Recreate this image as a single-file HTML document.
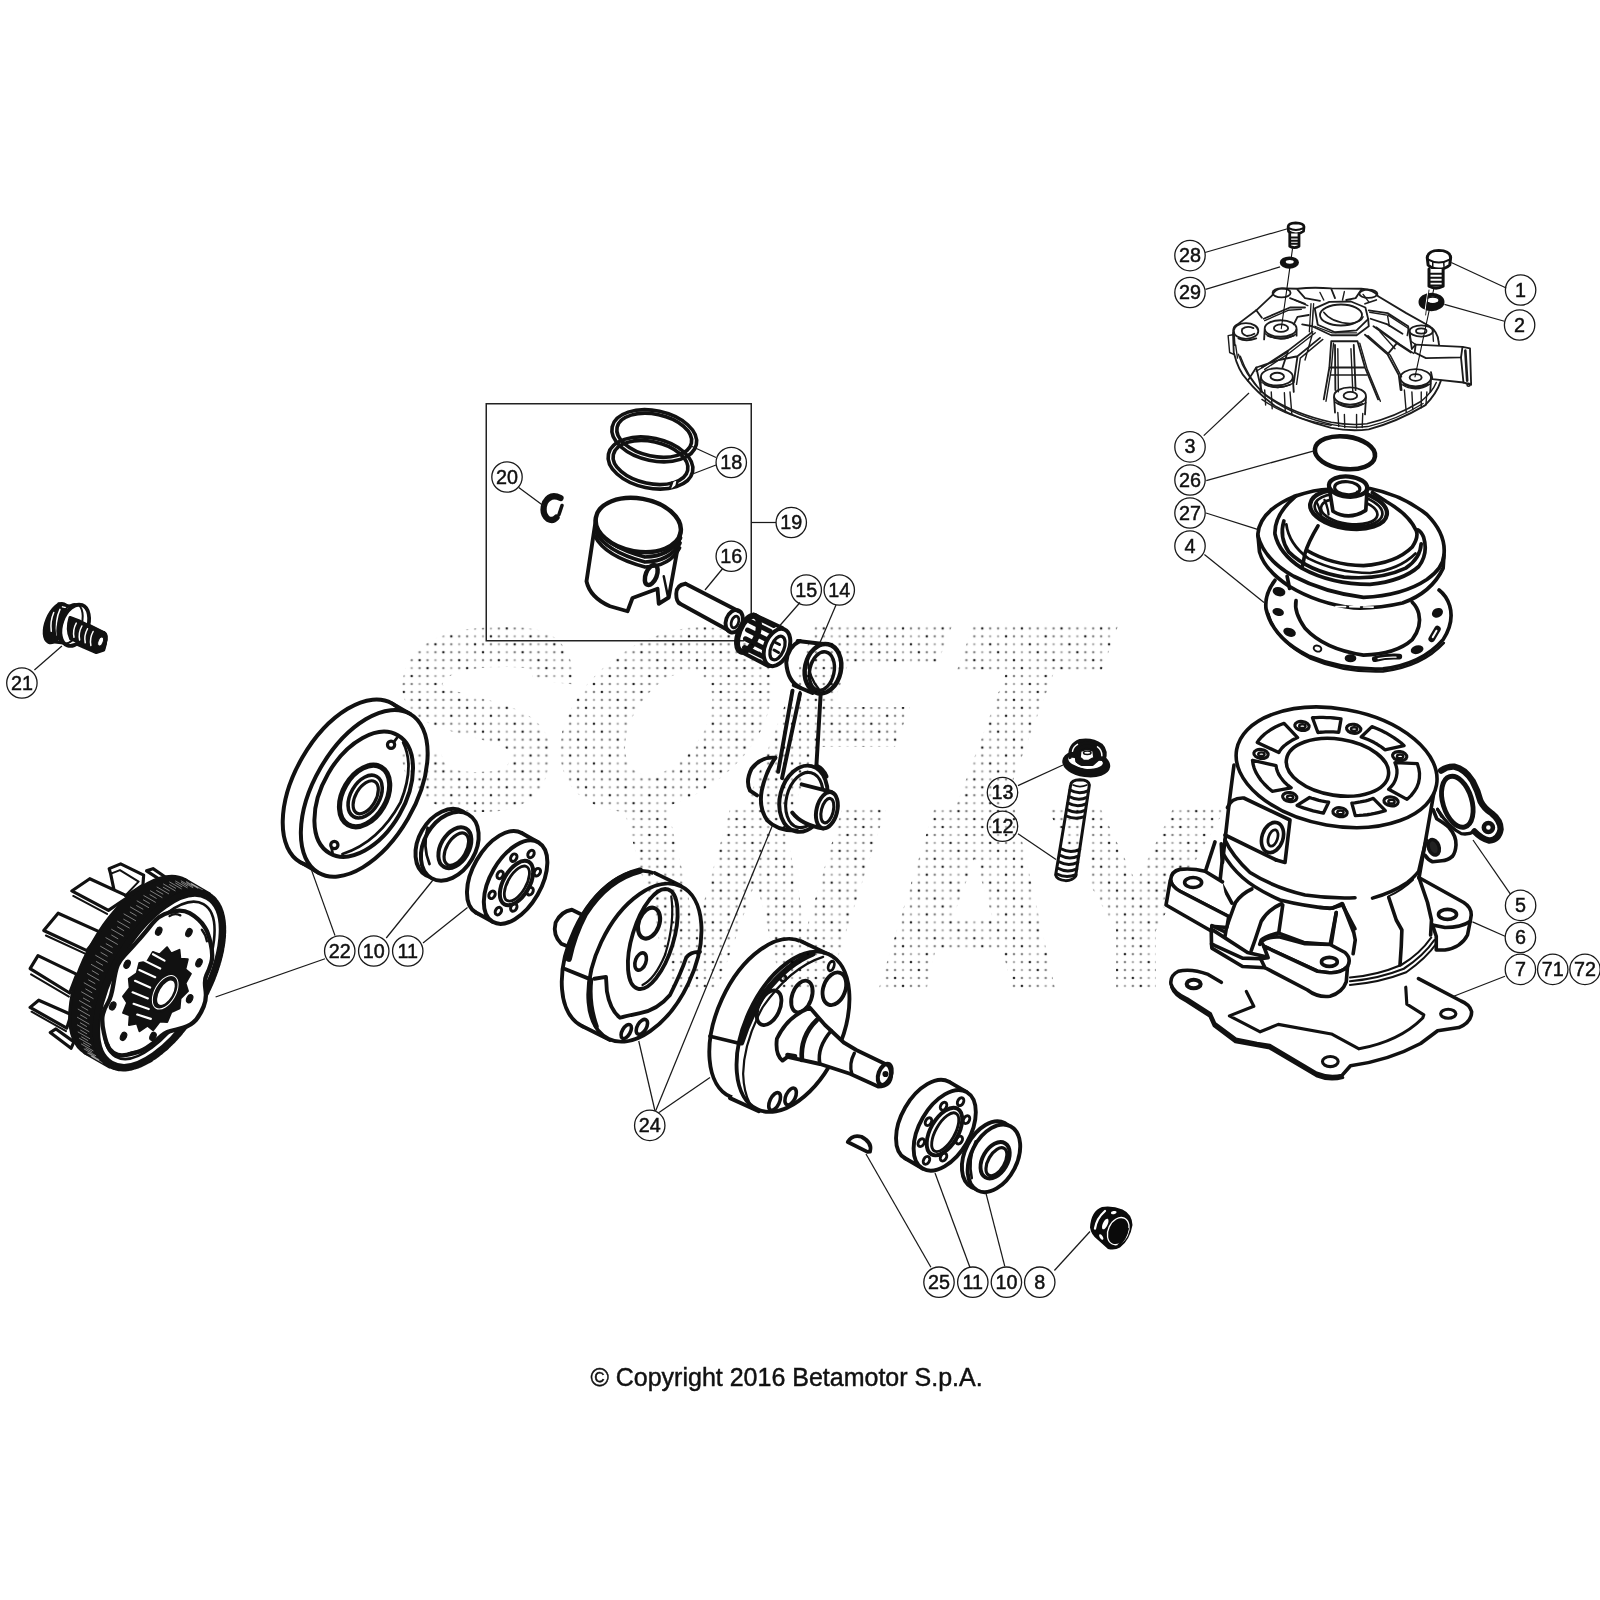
<!DOCTYPE html>
<html><head><meta charset="utf-8"><title>Parts diagram</title>
<style>
html,body{margin:0;padding:0;background:#fff;}
body{width:1600px;height:1600px;overflow:hidden;font-family:"Liberation Sans",sans-serif;}
svg{display:block;}
.p{fill:none;stroke:#111;stroke-linecap:round;stroke-linejoin:round;}
.w{fill:#fff;stroke:#111;stroke-linecap:round;stroke-linejoin:round;}
.k{fill:#111;stroke:#111;stroke-linejoin:round;}
.ld{stroke:#1a1a1a;stroke-width:1.25;fill:none;}
.cc{fill:none;stroke:#1a1a1a;stroke-width:1.3;}
.ct{font-family:"Liberation Sans",sans-serif;font-size:21px;fill:#111;stroke:#111;stroke-width:0.5;text-anchor:middle;}
</style></head><body>
<svg width="1600" height="1600" viewBox="0 0 1600 1600">
<rect width="1600" height="1600" fill="#fff"/>

<!-- cylinder -->
<g id="cylinder">
<!-- white silhouette to hide watermark -->
<path fill="#fff" style="stroke:none" d="M1234,760 Q1240,715 1325,706 Q1420,712 1436,775 L1428,872 L1420,878 L1465,903 Q1473,915 1470,935 Q1462,950 1437,951 L1400,972 L1350,982 L1348,990 Q1335,998 1318,994 L1265,968 L1212,946 L1212,932 L1165,906 L1170,880 Q1178,868 1192,869 L1205,871 L1215,843 L1226,843 Z"/>
<!-- top part, coords from 4x zoom @ (1150,690) -->
<g transform="translate(1150,690) scale(0.25)" class="p" stroke-width="14.5">
<!-- barrel sides -->
<path d="M336,300 L318,440 L290,690"/>
<path d="M1141,380 L1076,752"/>
<!-- boss -->
<path d="M310,470 Q325,430 375,432 L560,520 L540,690 L505,680"/>
<path d="M300,580 L505,680"/>
<ellipse cx="490" cy="590" rx="42" ry="62" transform="rotate(18 490 590)"/>
<ellipse cx="492" cy="592" rx="18" ry="34" transform="rotate(18 492 592)" stroke-width="11"/>
<!-- right boss -->
<path d="M1133,480 L1147,515 Q1180,535 1196,550 Q1226,585 1224,620 Q1222,650 1210,665 Q1190,682 1168,683 L1130,687 Q1112,680 1101,662"/>
<ellipse cx="1135" cy="629" rx="21" ry="32" transform="rotate(-20 1135 629)" fill="#222" stroke-width="14"/>
<path d="M1150,476 L1166,506" stroke-width="11"/>
</g>
<!-- top face -->
<g transform="translate(1220,695) scale(0.14375)" class="p" stroke-width="25">
<ellipse class="w" cx="811" cy="503" rx="706" ry="407" transform="rotate(10 811 503)"/>
<ellipse cx="817" cy="503" rx="359" ry="196" transform="rotate(8.8 817 503)"/>
<path d="M259,330 L273,310 L291,290 L311,271 L334,254 L358,238 L385,223 L415,209 L446,197 L540,296 L518,306 L498,317 L479,329 L461,342 L445,355 L431,369 L419,384 L409,400 Z" stroke-width="23"/>
<path d="M643,158 L667,157 L692,156 L717,156 L742,157 L767,158 L792,160 L817,162 L842,166 L826,259 L807,258 L789,257 L771,256 L753,256 L734,257 L717,258 L699,259 L681,261 Z" stroke-width="23"/>
<path d="M1057,220 L1090,233 L1122,247 L1152,262 L1181,279 L1209,296 L1234,314 L1259,332 L1281,352 L1147,381 L1131,368 L1113,355 L1094,343 L1073,331 L1052,320 L1029,310 L1006,301 L982,292 Z" stroke-width="23"/>
<path d="M1373,478 L1383,512 L1388,545 L1387,578 L1381,611 L1369,642 L1351,672 L1329,700 L1301,726 L1173,656 L1192,636 L1208,615 L1220,592 L1227,569 L1231,545 L1231,520 L1226,496 L1217,471 Z" stroke-width="23"/>
<path d="M1150,805 L1126,812 L1101,818 L1076,824 L1050,829 L1024,833 L996,836 L969,838 L941,839 L917,752 L937,750 L957,747 L976,744 L995,740 L1014,736 L1032,731 L1049,725 L1066,719 Z" stroke-width="23"/>
<path d="M719,822 L695,817 L672,811 L648,806 L625,799 L602,792 L580,785 L558,777 L536,768 L623,713 L638,718 L655,723 L671,728 L688,733 L705,737 L722,740 L739,743 L756,746 Z" stroke-width="23"/>
<path d="M363,670 L334,645 L308,619 L285,593 L266,565 L250,538 L238,510 L230,482 L226,454 L390,492 L393,512 L400,533 L409,553 L422,573 L436,592 L453,611 L473,629 L495,646 Z" stroke-width="23"/>
<ellipse cx="570" cy="215" rx="50" ry="31" transform="rotate(8 570 215)" stroke-width="22"/><ellipse cx="573" cy="217" rx="22" ry="13" stroke-width="17"/>
<ellipse cx="930" cy="235" rx="50" ry="31" transform="rotate(8 930 235)" stroke-width="22"/><ellipse cx="933" cy="237" rx="22" ry="13" stroke-width="17"/>
<ellipse cx="285" cy="410" rx="50" ry="31" transform="rotate(8 285 410)" stroke-width="22"/><ellipse cx="288" cy="412" rx="22" ry="13" stroke-width="17"/>
<ellipse cx="1250" cy="425" rx="50" ry="31" transform="rotate(8 1250 425)" stroke-width="22"/><ellipse cx="1253" cy="427" rx="22" ry="13" stroke-width="17"/>
<ellipse cx="485" cy="710" rx="50" ry="31" transform="rotate(8 485 710)" stroke-width="22"/><ellipse cx="488" cy="712" rx="22" ry="13" stroke-width="17"/>
<ellipse cx="835" cy="815" rx="50" ry="31" transform="rotate(8 835 815)" stroke-width="22"/><ellipse cx="838" cy="817" rx="22" ry="13" stroke-width="17"/>
<ellipse cx="1190" cy="740" rx="50" ry="31" transform="rotate(8 1190 740)" stroke-width="22"/><ellipse cx="1193" cy="742" rx="22" ry="13" stroke-width="17"/>
</g>
<!-- lower-left, coords from 8x zoom @ (1155,840) -->
<g transform="translate(1155,840) scale(0.125)" class="p" stroke-width="29">
<path d="M560,0 Q620,130 760,260 Q950,380 1200,440 Q1400,470 1600,462"/>
<path d="M540,100 Q600,210 700,300 Q800,390 1000,480 Q1200,530 1400,548 L1500,520"/>
<path d="M480,15 L405,245"/>
<path d="M530,30 L537,170 L520,330 L615,505"/>
<path d="M640,505 Q690,430 775,392"/>
<path d="M640,510 L600,620 L572,700 L560,770"/>
<path class="w" d="M540,335 L400,250 Q300,225 200,235 Q130,250 125,320 Q135,375 200,410 L590,612"/>
<path class="w" d="M122,325 L88,520 L450,728 L455,690 L575,700 L590,612 L200,410 Q135,375 125,320"/>
<ellipse cx="305" cy="340" rx="68" ry="40"/>
<path d="M455,685 L560,735"/>
<path d="M470,725 L740,900 L870,930 L905,942"/>
<path d="M450,730 L452,830 L480,845 L700,945 L845,950"/>
<path d="M452,830 L455,865 L700,1012 L880,1022"/>
<path d="M1012,510 Q900,560 850,650 L800,800 L770,885"/>
<path d="M1022,520 L990,742 Q880,770 850,800 L838,835"/>
<path d="M990,745 L1190,820 L1400,836"/>
<path d="M1450,580 L1402,832"/>
<path d="M1500,520 L1600,710"/>
<!-- front ear -->
<path class="w" d="M850,812 Q900,770 1000,776 L1200,830 L1400,836 L1520,900 Q1575,950 1540,1012 Q1480,1072 1380,1060 L1300,1050 L870,850 Z"/>
<path class="w" d="M1540,1015 L1530,1135 Q1500,1220 1400,1250 Q1300,1262 1220,1200 L880,1022 L845,950 L905,942 L870,850 L1300,1050 L1380,1060 Q1480,1072 1540,1012"/>
<ellipse cx="1395" cy="975" rx="63" ry="36"/>
</g>
<!-- lower-right, coords from 8x zoom @ (1320,840) -->
<g transform="translate(1320,840) scale(0.125)" class="p" stroke-width="29">
<path d="M420,465 Q580,420 700,340 Q760,290 790,250 L820,120 L850,0"/>
<path d="M545,452 Q660,400 745,318" stroke-width="15"/>
<path d="M790,300 L1150,500 Q1212,540 1210,600 L1200,660 L1180,760 Q1130,860 1000,880 L930,880 L930,770 L900,680"/>
<path d="M900,680 L1000,700 Q1130,700 1203,650"/>
<ellipse cx="1020" cy="595" rx="72" ry="40"/>
<path d="M795,310 L860,500 L892,640 L885,760"/>
<path d="M240,1100 Q450,1085 650,1000 Q800,910 890,780" stroke-width="17"/>
<path d="M240,1130 Q470,1110 670,1030 Q830,925 915,800" stroke-width="17"/>
<path d="M240,1160 Q480,1140 690,1058 Q850,945 930,830" stroke-width="17"/>
<path d="M550,460 L610,640 L655,720 L650,850 L640,1000"/>
<path d="M180,510 L270,740 L282,800 L265,910"/>
<path d="M130,580 L90,830"/>
<path d="M0,540 L100,546 L175,510"/>
</g>
</g>


<!-- gasket7 -->
<g id="gasket7" transform="translate(1155,950) scale(0.2125)" class="p" stroke-width="16.9">
<path d="M312,152 L250,115 Q170,85 110,100 Q70,120 75,160 Q85,200 150,230 L260,300 L280,345 L380,420 L480,440 L540,450 L760,580 Q820,605 880,590 L920,545 Q1100,520 1250,440 L1330,380 L1430,365 Q1490,340 1490,290 Q1480,255 1440,240 L1240,135"/>
<path d="M78,175 Q90,212 150,242 L258,312 L278,357 L378,432 L540,462 L760,592 Q820,617 884,600" stroke-width="13.6"/>
<path d="M430,195 L465,265 L350,310 L495,385 L580,350 L830,395 L960,465 Q1150,430 1260,320 L1265,305 L1185,255 L1180,175" stroke-width="14.7"/>
<ellipse cx="182" cy="160" rx="33" ry="20" stroke-width="19.2"/>
<ellipse cx="1380" cy="300" rx="36" ry="21" stroke-width="14.7"/>
<ellipse cx="825" cy="525" rx="37" ry="24" stroke-width="14.7"/>
</g>


<!-- gasket5 -->
<g id="gasket5" transform="translate(1400,740) scale(0.0875)" class="p" stroke-width="60">
<path d="M470,350 Q540,300 620,305 Q740,330 830,470 Q890,580 920,700 Q960,780 1050,840 Q1150,920 1150,1020 Q1130,1140 1020,1150 Q930,1130 850,1045" stroke-width="72"/>
<path d="M850,1045 Q780,1085 700,1070 Q560,1000 430,795" stroke-width="38"/>
<ellipse cx="655" cy="705" rx="165" ry="300" transform="rotate(-17 655 705)" stroke-width="56"/>
<circle cx="1010" cy="1000" r="52" stroke-width="52"/>
</g>


<!-- head3 -->
<g id="head3" transform="translate(1200,270) scale(0.1875)" fill="none" stroke="#1c1c1c" stroke-width="9.8" stroke-linecap="round" stroke-linejoin="round">
<!-- outer silhouette -->
<path d="M178,330 Q175,300 200,290 L300,215 L385,135 Q400,100 440,98 L520,100 Q600,90 700,98 L860,100 Q930,105 950,140 L1100,230 L1225,300 Q1268,330 1272,380 L1275,400"/>
<path d="M176,335 L180,440 Q205,540 250,585 Q310,660 400,725 Q520,795 700,842 Q800,862 900,850 Q1050,810 1200,722 Q1262,660 1285,590"/>
<path d="M205,450 Q240,560 330,650 Q470,760 700,812 Q800,830 890,820 Q1040,785 1180,700 Q1240,650 1260,600" stroke-width="8"/>
<path d="M330,690 Q470,790 700,828" stroke-width="6.9"/>
<!-- port box -->
<path d="M1150,398 L1400,410 L1440,418 L1446,612 L1405,600 L1240,582 L1232,545"/>
<path d="M1150,398 L1145,440 L1205,470 L1392,466 L1400,410"/>
<path d="M1392,466 L1405,600"/>
<path d="M1415,430 L1425,590" stroke-width="13.8"/>
<circle cx="1432" cy="612" r="8" stroke-width="8"/>
<!-- center hex boss -->
<path d="M612,205 L690,170 L805,168 L882,200 L897,262 L835,322 L720,332 L628,292 Z"/>
<ellipse cx="752" cy="240" rx="112" ry="56"/>
<path d="M660,225 Q700,280 800,285 Q860,280 870,250" stroke-width="8"/>
<path d="M600,215 L598,300 L700,348 L835,348 L900,300 L897,262"/>
<path d="M612,300 L705,335 L835,335" stroke-width="6.9"/>
<path d="M598,180 L588,330" stroke-width="11.5" stroke="#fff"/>
<path d="M592,180 L583,330 M606,180 L596,330" stroke-width="6.9"/>
<!-- bosses -->
<g>
<ellipse cx="410" cy="570" rx="85" ry="46"/><ellipse cx="412" cy="568" rx="36" ry="20"/>
<path d="M325,575 L322,650 M495,575 L500,650 M345,610 Q410,640 480,612"/>
<ellipse cx="800" cy="672" rx="85" ry="46"/><ellipse cx="802" cy="670" rx="36" ry="20"/>
<path d="M715,678 L720,760 M885,678 L880,770 M735,712 Q800,742 868,714"/>
<ellipse cx="1150" cy="575" rx="82" ry="46"/><ellipse cx="1150" cy="573" rx="32" ry="18"/>
<path d="M1068,580 L1075,640 M1232,580 L1228,650 M1088,612 Q1150,642 1215,612"/>
<ellipse cx="430" cy="312" rx="85" ry="44"/><ellipse cx="432" cy="310" rx="38" ry="20"/>
<path d="M345,318 L342,370 M515,318 L515,350 M360,350 Q430,380 500,350"/>
<ellipse cx="245" cy="325" rx="66" ry="42"/><path d="M285,310 Q250,295 225,315 Q215,340 250,352 Q275,350 290,340"/>
<path d="M180,330 L185,400 M205,365 Q245,385 300,365"/>
<ellipse cx="1180" cy="325" rx="62" ry="30"/><ellipse cx="1180" cy="325" rx="28" ry="14"/>
<ellipse cx="435" cy="122" rx="48" ry="24"/>
<ellipse cx="898" cy="127" rx="48" ry="22"/>
</g>
<!-- ribs -->
<path d="M600,330 L470,430 L330,520 M640,362 L520,460 L500,600 M470,430 L440,520 M520,460 L420,480 L300,520 L330,650"/>
<path d="M700,380 L690,520 L660,690 M840,380 L880,520 L950,690 M700,380 L840,380 M690,520 L880,520 M720,400 L722,640 M820,400 L830,640"/>
<path d="M880,345 L1000,450 L1060,560 M925,300 L1050,390 L1125,440 M1000,450 L1050,390 M1060,560 L1070,640"/>
<path d="M560,200 L480,200 L340,260 M580,240 L520,250 L500,290 M545,290 L600,300"/>
<path d="M900,215 L1000,230 L1110,300 M910,260 L1000,290 L1080,340 M1110,300 L1130,420"/>
<path d="M520,105 L560,150 L640,165 M700,100 L720,150 M860,105 L830,150 L780,160 M480,150 L560,180 M940,160 L880,180"/>
<path d="M300,215 L330,255 M255,590 L300,520 M1130,420 L1150,398"/>
<!-- extra density -->
<g stroke-width="7.5">
<path d="M330,600 Q410,650 495,605 M720,705 Q800,760 885,708 M1072,608 Q1150,660 1230,606 M348,340 Q430,395 512,342"/>
<path d="M345,640 L350,720 M480,650 L490,770 M735,760 L740,835 M868,765 L865,840 M1090,640 L1100,760 M1210,650 L1205,720"/>
<path d="M380,650 L385,740 M450,655 L455,760 M770,770 L772,840 M835,770 L835,842 M1130,650 L1135,745 M1180,650 L1180,735"/>
<path d="M615,335 L480,440 L345,530 M655,370 L535,470 L515,610 M455,445 L300,540 M560,480 L600,340"/>
<path d="M712,390 L700,530 L672,700 M852,390 L892,530 L962,700 M735,420 L738,650 M805,420 L815,650 M700,560 L890,560"/>
<path d="M895,350 L1015,455 L1075,570 M940,305 L1065,395 L1140,445 M960,330 L1040,420"/>
<path d="M215,460 Q255,575 345,665 Q485,775 712,826 Q805,845 895,835 Q1048,800 1190,712"/>
<path d="M190,400 L200,470 M175,345 L150,350 L158,440 L180,450"/>
<path d="M540,210 L470,215 L345,270 M505,160 L575,190 M640,120 L660,160 M770,115 L760,160 M870,130 L900,170"/>
<path d="M905,225 L1005,242 L1112,312 M1000,242 L1010,300 M1112,312 L1105,350"/>
<path d="M1240,310 L1245,380 M1120,335 L1125,380 L1150,398"/>
</g>
</g>


<!-- oring26 -->
<g id="oring26" transform="translate(1240,430) scale(0.1625)" class="p" stroke-width="28">
<ellipse cx="646" cy="140" rx="186" ry="100" transform="rotate(7 646 140)"/>
</g>


<!-- dome27 -->
<g id="dome27" transform="translate(1240,430) scale(0.1625)" class="p" stroke-width="22.8">
<!-- flange -->
<path class="w" d="M110,640 Q120,500 330,410 Q480,360 560,365 L800,360 Q1000,400 1150,520 Q1270,640 1255,770 L1250,850 Q1180,1000 1000,1065 Q850,1100 700,1095 Q480,1070 300,960 Q150,860 120,750 Z"/>
<path d="M110,650 Q150,800 330,900 Q520,1000 760,1030 Q1000,1020 1150,920 Q1250,850 1255,770"/>
<path d="M290,900 L305,975" />
<path d="M590,1086 L830,1090" stroke="#fff" stroke-width="9.6" stroke-dasharray="60 25"/>
<!-- ridges -->
<path d="M345,405 Q210,520 215,640 Q240,760 380,850 Q560,950 800,950 Q1000,930 1100,840 Q1160,760 1130,660 Q1115,625 1095,615"/>
<path d="M270,560 Q240,660 300,750 Q420,870 640,905 Q860,925 1020,850 Q1110,790 1115,700"/>
<path d="M410,740 Q560,830 760,835 Q960,820 1060,720 Q1100,660 1085,620 Q1040,520 900,440 L815,385"/>
<path d="M285,580 Q300,700 420,790 Q600,880 800,880 Q980,860 1080,760" stroke-width="16.8"/>
<!-- seam -->
<path d="M480,590 Q420,690 400,760 L385,835"/>
<!-- neck ring -->
<ellipse cx="668" cy="488" rx="238" ry="118" transform="rotate(8 668 488)" stroke-width="26.4"/>
<ellipse cx="668" cy="492" rx="210" ry="98" transform="rotate(8 668 492)" stroke-width="16.8"/>
<ellipse cx="672" cy="500" rx="175" ry="78" transform="rotate(8 672 500)" stroke-width="16.8"/>
<path d="M470,440 Q490,480 500,530 M520,430 Q540,470 545,520" stroke-width="14.4"/>
<!-- spigot -->
<path class="w" d="M548,350 L572,500 Q670,560 774,495 L783,350 Z"/>
<ellipse class="w" cx="665" cy="348" rx="118" ry="62" transform="rotate(5 665 348)" stroke-width="26.4"/>
<ellipse cx="660" cy="358" rx="78" ry="40" transform="rotate(5 660 358)" stroke-width="19.2"/>
<path d="M590,375 L600,400 M720,380 L722,400" stroke-width="14.4"/>
</g>


<!-- gasket4 -->
<g id="gasket4" transform="translate(1240,430) scale(0.1625)" class="p" stroke-width="22.8">
<path d="M215,925 Q150,1010 160,1100 Q200,1280 420,1390 Q640,1480 880,1470 Q1120,1440 1250,1290 Q1320,1180 1290,1080 Q1270,1020 1225,985"/>
<path d="M175,1130 Q215,1295 430,1405 Q640,1495 880,1486 Q1120,1456 1255,1310" stroke-width="14.4"/>
<path d="M345,1050 Q330,1120 400,1220 Q520,1350 760,1385 Q960,1380 1060,1290 Q1120,1210 1100,1130 Q1090,1090 1060,1060"/>
<g fill="#111" stroke-width="12">
<ellipse cx="240" cy="995" rx="34" ry="22" transform="rotate(15 240 995)"/>
<ellipse cx="235" cy="1120" rx="30" ry="18" transform="rotate(15 235 1120)"/>
<ellipse cx="305" cy="1245" rx="34" ry="20" transform="rotate(20 305 1245)"/>
<ellipse cx="477" cy="1345" rx="24" ry="18" transform="rotate(20 477 1345)" fill="none"/>
<ellipse cx="680" cy="1405" rx="30" ry="19"/>
<ellipse cx="1090" cy="1352" rx="34" ry="20" transform="rotate(-15 1090 1352)"/>
<ellipse cx="1215" cy="1125" rx="30" ry="22" transform="rotate(-30 1215 1125)"/>
</g>
<path d="M830,1410 Q900,1390 980,1395" stroke-width="36"/>
<path d="M850,1407 Q900,1396 960,1398" stroke-width="8.4" stroke="#fff"/>
<path d="M1180,1285 L1215,1225" stroke-width="40.8"/>
<path d="M1186,1275 L1209,1235" stroke-width="12" stroke="#fff"/>
</g>


<!-- bolts -->
<g id="bolts">
<!-- bolt 28: 8x zoom @ (1150,200) -->
<g transform="translate(1150,200) scale(0.125)" class="p" stroke-width="22">
<path class="w" d="M1105,215 Q1105,185 1165,183 Q1230,185 1232,215 L1228,250 Q1200,272 1165,270 Q1125,270 1108,250 Z"/>
<path d="M1110,225 Q1165,255 1228,225" stroke-width="14"/>
<path d="M1118,268 L1118,370 Q1155,392 1192,370 L1192,268" fill="#fff"/>
<path d="M1120,300 L1190,300 M1120,325 L1190,325 M1120,350 L1190,350" stroke-width="16"/>
<path d="M1140,390 L1050,1030" stroke-width="9"/>
<!-- washer 29 -->
<ellipse cx="1115" cy="500" rx="66" ry="38" fill="#111"/>
<ellipse cx="1118" cy="494" rx="32" ry="15" fill="#fff" style="stroke:none"/>
</g>
<!-- bolt 1: 8x zoom @ (1400,220) -->
<g transform="translate(1400,220) scale(0.125)" class="p" stroke-width="24">
<path class="w" d="M218,300 Q225,245 310,243 Q400,245 405,300 L398,360 Q360,395 310,392 Q255,392 225,360 Z"/>
<path d="M222,315 Q310,365 402,315" stroke-width="16"/>
<path d="M262,340 L262,375 M350,340 L352,372" stroke-width="12"/>
<path d="M232,392 L232,530 Q288,560 345,530 L345,392" fill="#fff"/>
<path d="M235,430 L343,430 M235,462 L343,462 M235,494 L343,494 M240,524 L340,524" stroke-width="17"/>
<path d="M270,552 L120,1255" stroke-width="9"/>
<!-- washer 2 -->
<ellipse cx="252" cy="655" rx="92" ry="62" fill="#111"/>
<ellipse cx="262" cy="640" rx="50" ry="26" fill="#fff" style="stroke:none"/>
<ellipse cx="262" cy="642" rx="50" ry="26" fill="none" stroke-width="10"/>
<path d="M225,560 L195,760" stroke="#fff" stroke-width="8"/>
<path d="M232,560 L205,760" stroke-width="7"/>
</g>
</g>


<!-- stud -->
<g id="stud" transform="translate(960,720) scale(0.125)" class="p" stroke-width="26">
<!-- nut 13 -->
<ellipse cx="1010" cy="350" rx="180" ry="95" fill="#111" transform="rotate(8 1010 350)"/>
<ellipse cx="1005" cy="325" rx="140" ry="62" fill="#fff" style="stroke:none" transform="rotate(8 1005 325)"/>
<path d="M880,300 Q870,200 960,165 Q1060,150 1130,200 Q1180,250 1150,330" fill="#111"/>
<path d="M935,330 L925,250 L1000,205 L1090,225 L1120,300 L1060,355 L960,355 Z" fill="#111"/>
<path d="M960,300 L965,250 L1015,232 L1065,248 L1072,300 L1030,325 L985,322 Z" fill="#fff" stroke-width="14"/>
<ellipse cx="1018" cy="262" rx="30" ry="14" fill="#fff" stroke-width="12"/>
<path d="M905,330 Q950,380 1020,385 Q1090,380 1125,340" stroke="#fff" stroke-width="14"/>
<path d="M900,250 Q905,215 940,195 M1100,215 Q1135,240 1135,285" stroke="#fff" stroke-width="12"/>
<!-- stud 12 -->
<path d="M885,520 Q890,480 960,478 Q1030,480 1035,520 L925,1250 Q900,1285 845,1285 Q775,1280 765,1240 Z" stroke-width="24"/>
<g stroke-width="24">
<path d="M880,560 Q950,600 1028,565"/>
<path d="M872,612 Q945,652 1020,617"/>
<path d="M864,664 Q937,704 1012,669"/>
<path d="M856,716 Q929,756 1004,721"/>
<path d="M850,768 Q921,800 996,773"/>
<path d="M808,1030 Q880,1070 958,1035"/>
<path d="M800,1082 Q872,1122 950,1087"/>
<path d="M792,1134 Q864,1174 942,1139"/>
<path d="M784,1186 Q856,1226 934,1191"/>
<path d="M776,1232 Q848,1268 928,1238"/>
</g>
<path d="M905,520 Q960,545 1015,520" stroke-width="14"/>
</g>


<!-- pistonbox -->
<g id="pistonbox">
<rect x="486.25" y="403.75" width="265" height="237" fill="none" stroke="#222" stroke-width="1.5"/>
<g transform="translate(470,390) scale(0.25)" class="p" stroke-width="15.5">
<!-- rings 18 -->
<g stroke-width="14.5">
<ellipse cx="722" cy="292" rx="172" ry="100" transform="rotate(12 722 292)"/>
<ellipse cx="722" cy="290" rx="152" ry="84" transform="rotate(12 722 290)"/>
<ellipse cx="737" cy="183" rx="172" ry="100" transform="rotate(12 737 183)"/>
<ellipse cx="737" cy="181" rx="152" ry="84" transform="rotate(12 737 181)"/>
</g>
<path d="M805,385 L822,372" stroke="#fff" stroke-width="16"/>
<path d="M800,392 L808,370 M826,385 L830,366" stroke-width="10"/>
<!-- piston -->
<path d="M503,520 L466,765 Q480,830 560,865 L630,885 L650,832 L750,795 L755,855 L795,830 L842,570" />
<ellipse cx="673" cy="540" rx="172" ry="106" transform="rotate(10 673 540)" stroke-width="18"/>
<path d="M503,545 Q540,625 700,668 Q800,665 842,592" stroke-width="15"/>
<path d="M502,565 Q540,645 700,688 Q800,685 840,612" stroke-width="15"/>
<path d="M500,585 Q540,665 700,708 Q800,705 838,632" stroke-width="15"/>
<path d="M775,745 L792,828" stroke-width="10"/>
<ellipse cx="725" cy="740" rx="22" ry="42" transform="rotate(22 725 740)" stroke-width="18"/>
<!-- clip 20 -->
<path d="M362,432 Q322,412 300,450 Q284,492 312,516 Q332,526 346,510" stroke-width="25"/>
<path d="M368,462 L356,498" stroke-width="14"/>
<!-- pin 16 -->
<path d="M862,775 L1075,885 M835,852 L1035,962"/>
<path d="M862,775 Q825,780 825,815 Q825,845 838,853"/>
<ellipse cx="1057" cy="925" rx="33" ry="46" transform="rotate(20 1057 925)"/>
<ellipse cx="1060" cy="928" rx="14" ry="24" transform="rotate(20 1060 928)" stroke-width="11"/>
<!-- bearing 15 -->
<path class="w" d="M1130,900 L1245,950 L1200,1105 L1085,1045 Z" style="stroke:none"/>
<path d="M1135,898 L1250,952 M1090,1050 L1195,1105"/>
<ellipse cx="1112" cy="975" rx="36" ry="76" transform="rotate(22 1112 975)" stroke-width="24"/>
<g stroke-width="20">
<path d="M1120,925 L1200,965 M1110,960 L1190,1000 M1102,995 L1180,1035 M1098,1030 L1175,1068 M1140,905 L1215,942"/>
</g>
<ellipse class="w" cx="1228" cy="1030" rx="48" ry="78" transform="rotate(22 1228 1030)" stroke-width="16"/>
<ellipse cx="1230" cy="1032" rx="26" ry="50" transform="rotate(22 1230 1032)" stroke-width="13"/>
<path d="M1222,1010 L1238,1018 M1216,1040 L1234,1050" stroke-width="12"/>
</g>
</g>


<!-- conrod -->
<g id="conrod" transform="translate(700,600) scale(0.15625)" class="p" stroke-width="25.3">
<!-- small end -->
<path d="M640,262 Q560,300 552,400 Q560,520 640,560"/>
<path d="M625,262 L790,282 M600,545 L720,595"/>
<ellipse cx="787" cy="440" rx="115" ry="160" transform="rotate(12 787 440)" stroke-width="28.6"/>
<ellipse cx="780" cy="455" rx="78" ry="125" transform="rotate(12 780 455)" stroke-width="22"/>
<path d="M690,395 Q700,500 760,570" stroke-width="15.4"/>
<!-- shaft -->
<path d="M592,580 L500,1100 M640,600 L525,1140 M772,605 L745,1060"/>
<!-- big end back boss -->
<path d="M482,1010 Q390,1000 330,1080 Q290,1160 320,1220 L365,1250"/>
<!-- big end body -->
<path d="M482,1010 Q420,1100 395,1220 Q375,1330 430,1410 Q500,1480 620,1475"/>
<ellipse cx="662" cy="1272" rx="150" ry="215" transform="rotate(14 662 1272)"/>
<ellipse cx="668" cy="1280" rx="115" ry="180" transform="rotate(14 668 1280)" stroke-width="19.8"/>
<path d="M745,1060 Q790,1080 810,1130"/>
<!-- crank pin stub -->
<path class="w" d="M640,1190 L760,1215 L850,1235 L800,1460 L720,1440 L600,1380 Z" style="stroke:none"/>
<path d="M650,1180 L840,1228 M590,1360 Q650,1440 790,1462"/>
<ellipse class="w" cx="812" cy="1345" rx="66" ry="118" transform="rotate(14 812 1345)"/>
<ellipse cx="815" cy="1348" rx="38" ry="80" transform="rotate(14 815 1348)" stroke-width="19.8"/>
</g>


<!-- bolt21 -->
<g id="bolt21" transform="translate(0,580) scale(0.125)" class="p" stroke-width="24">
<!-- thread -->
<path d="M590,300 L830,420 Q860,480 830,560 L770,580 L540,480 Z" fill="#111"/>
<g stroke="#fff" stroke-width="13">
<path d="M600,345 Q570,400 580,455"/><path d="M645,368 Q615,423 625,478"/><path d="M690,390 Q660,445 670,500"/><path d="M735,412 Q705,467 715,522"/>
</g>
<ellipse cx="800" cy="492" rx="42" ry="78" transform="rotate(20 800 492)" fill="#111"/>
<ellipse cx="800" cy="492" rx="22" ry="40" transform="rotate(20 800 492)" fill="#fff" stroke-width="8"/>
<!-- head -->
<ellipse cx="450" cy="345" rx="80" ry="165" transform="rotate(22 450 345)" fill="#111"/>
<path d="M470,190 L590,215 L560,510 L420,495 Z" fill="#111"/>
<path d="M430,260 Q400,330 410,410 M480,235 Q440,320 455,440" stroke="#fff" stroke-width="12"/>
<path d="M500,215 L545,225 M470,480 L520,490" stroke="#fff" stroke-width="12"/>
<!-- flange -->
<ellipse cx="598" cy="362" rx="105" ry="172" transform="rotate(20 598 362)" fill="#fff" stroke-width="30"/>
<ellipse cx="560" cy="350" rx="90" ry="165" transform="rotate(20 560 350)" fill="none" stroke-width="16"/>
<path d="M560,300 Q530,400 565,470 L640,500 L780,565 L830,545 Q855,480 830,425 L640,330 Z" fill="#111"/>
<g stroke="#fff" stroke-width="12">
<path d="M610,345 Q580,400 592,458"/><path d="M655,368 Q625,423 637,480"/><path d="M700,390 Q670,445 682,502"/><path d="M745,412 Q715,467 727,524"/>
</g>
<ellipse cx="805" cy="492" rx="40" ry="76" transform="rotate(20 805 492)" fill="#111"/>
<ellipse cx="805" cy="492" rx="20" ry="38" transform="rotate(20 805 492)" fill="#fff" stroke-width="8"/>
</g>


<!-- disk22 -->
<g id="disk22" transform="translate(270,690) scale(0.18125)" class="p" stroke-width="22">
<ellipse cx="420" cy="512" rx="506" ry="279" transform="rotate(-60 420 512)"/>
<ellipse class="w" cx="520" cy="570" rx="506" ry="279" transform="rotate(-60 520 570)"/>
<path d="M673,74 L773,132 M167,950 L267,1008" stroke-width="19.8"/>
<ellipse cx="517" cy="575" rx="376" ry="227" transform="rotate(-60 517 575)"/>
<path d="M735,290 Q800,420 720,620 Q600,840 400,905" stroke-width="15.4"/>
<ellipse cx="522" cy="585" rx="183" ry="120" transform="rotate(-60 522 585)" stroke-width="28.6"/>
<ellipse cx="525" cy="588" rx="128" ry="80" transform="rotate(-60 525 588)" stroke-width="19.8"/>
<ellipse cx="528" cy="592" rx="100" ry="56" transform="rotate(-60 528 592)" stroke-width="17.6"/>
<circle cx="668" cy="302" r="20" stroke-width="17.6"/><path d="M685,285 L700,265" stroke-width="15.4"/>
<circle cx="355" cy="855" r="20" stroke-width="17.6"/><path d="M340,872 L345,900" stroke-width="15.4"/>
</g>


<!-- seal_bearing_l -->
<g id="seal_bearing_l" transform="translate(270,690) scale(0.18125)" class="p" stroke-width="22">
<!-- seal 10 -->
<ellipse cx="962" cy="846" rx="203" ry="142" transform="rotate(-60 962 846)"/>
<ellipse class="w" cx="992" cy="862" rx="203" ry="142" transform="rotate(-60 992 862)"/>
<path d="M870,760 Q840,860 880,960" stroke-width="15.4"/>
<ellipse cx="1020" cy="870" rx="122" ry="78" transform="rotate(-60 1020 870)"/>
<ellipse cx="1028" cy="878" rx="98" ry="54" transform="rotate(-60 1028 878)" stroke-width="17.6"/>
<!-- bearing 11 -->
<ellipse cx="1262" cy="1008" rx="253" ry="140" transform="rotate(-60 1262 1008)"/>
<path class="w" style="stroke:none" d="M1388,789 L1481,841 L1229,1279 L1136,1227 Z"/>
<path d="M1388,789 L1481,841 M1136,1227 L1229,1279"/>
<ellipse class="w" cx="1355" cy="1060" rx="253" ry="140" transform="rotate(-60 1355 1060)"/>
<ellipse cx="1360" cy="1065" rx="135" ry="72" transform="rotate(-60 1360 1065)"/>
<ellipse cx="1362" cy="1068" rx="108" ry="50" transform="rotate(-60 1362 1068)" stroke-width="15.4"/>
<g stroke-width="16.5">
<ellipse cx="1345" cy="925" rx="22" ry="16" transform="rotate(-60 1345 925)"/>
<ellipse cx="1440" cy="905" rx="22" ry="16" transform="rotate(-60 1440 905)"/>
<ellipse cx="1475" cy="1005" rx="22" ry="16" transform="rotate(-60 1475 1005)"/>
<ellipse cx="1435" cy="1110" rx="22" ry="16" transform="rotate(-60 1435 1110)"/>
<ellipse cx="1345" cy="1200" rx="22" ry="16" transform="rotate(-60 1345 1200)"/>
<ellipse cx="1260" cy="1220" rx="22" ry="16" transform="rotate(-60 1260 1220)"/>
<ellipse cx="1225" cy="1130" rx="22" ry="16" transform="rotate(-60 1225 1130)"/>
<ellipse cx="1270" cy="1020" rx="22" ry="16" transform="rotate(-60 1270 1020)"/>
</g>
</g>


<!-- clutch -->
<g id="clutch" transform="translate(15,855) scale(0.14375)" class="p" stroke-width="22">
<path class="w" d="M655,95 L735,62 L895,140 L890,210 L770,290 L690,250 L665,130 Z"/>
<path class="w" d="M915,110 L960,95 L1040,150 L1030,185 Z"/>
<path class="w" d="M395,250 L520,165 L790,290 L650,385 Z"/>
<path class="w" d="M200,525 L300,405 L600,540 L500,665 Z"/>
<path class="w" d="M105,790 L160,700 L430,830 L380,960 Z"/>
<path class="w" d="M105,1060 L165,1010 L390,1110 L360,1205 Z"/>
<path class="w" d="M245,1235 L285,1210 L410,1300 L390,1345 Z"/>
<path d="M405,285 L640,410 M215,560 L495,690 M112,830 L375,985 M115,1090 L355,1225 M668,130 L730,105 L860,185 L765,285" stroke-width="14"/>
<ellipse cx="835" cy="774" rx="695" ry="338" transform="rotate(-60 835 774)" fill="#111"/>
<path d="M1182,172 L1352,270 L657,1474 L487,1376 Z" fill="#111"/>
<path d="M528,1399 L613,1448 M535,1400 L583,1428 M502,1376 L587,1425 M510,1375 L558,1402 M479,1348 L564,1397 M490,1343 L537,1371 M460,1314 L545,1363 M473,1306 L521,1334 M446,1274 L531,1323 M461,1264 L509,1292 M437,1230 L522,1279 M454,1217 L502,1245 M432,1181 L517,1230 M452,1166 L500,1194 M432,1128 L517,1177 M454,1112 L502,1139 M437,1071 L522,1120 M462,1054 L509,1081 M446,1012 L531,1061 M473,994 L521,1021 M461,951 L546,1000 M490,931 L537,959 M479,888 L564,937 M510,868 L558,895 M502,824 L587,873 M535,804 L583,832 M529,760 L614,809 M564,740 L612,768 M559,697 L644,746 M596,677 L644,705 M593,634 L678,683 M632,616 L679,643 M630,574 L715,623 M670,556 L718,584 M670,516 L755,565 M711,499 L759,527 M712,460 L797,509 M754,446 L802,473 M756,409 L841,458 M799,396 L846,424 M801,361 L886,410 M844,351 L892,378 M847,318 L932,367 M891,311 L938,338 M894,281 L979,330 M937,275 L985,303 M940,248 L1025,297 M983,246 L1031,273 M986,222 L1071,271 M1029,223 L1076,250 M1031,201 L1116,250 M1073,205 L1120,233 M1074,187 L1159,236 M1115,194 L1163,222 M1115,180 L1200,229 M1155,190 L1203,218 M1154,179 L1239,228 M1193,192 L1240,220 M1190,184 L1275,233 M1227,201 L1275,228 M1223,196 L1308,245" stroke="#fff" stroke-width="3.2" stroke-linecap="butt"/>
<ellipse cx="1005" cy="872" rx="680" ry="325" transform="rotate(-60 1005 872)" fill="#fff" stroke-width="46" stroke-dasharray="22 12"/>
<ellipse cx="1005" cy="872" rx="655" ry="302" transform="rotate(-60 1005 872)" stroke-width="14"/>
<ellipse cx="1005" cy="872" rx="612" ry="266" transform="rotate(-60 1005 872)" stroke-width="18"/>
<path d="M1040,411 Q1080,392 1130,388 Q1180,385 1215,405 Q1250,425 1275,448 Q1300,470 1322,505 Q1345,540 1362,620 Q1380,700 1365,750 Q1350,800 1332,835 Q1315,870 1325,935 Q1335,1000 1312,1055 Q1290,1110 1258,1148 Q1225,1185 1172,1200 Q1120,1215 1080,1225 Q1040,1235 995,1278 Q950,1320 915,1342 Q880,1365 815,1382 Q750,1400 715,1390 Q680,1380 658,1350 Q635,1320 618,1235 Q600,1150 612,1105 Q625,1060 648,1025 Q670,990 685,895 Q700,800 715,765 Q730,730 760,700 Q790,670 845,608 Q900,545 930,508 Q960,470 980,450 Q1000,430 1040,411 Z" stroke-width="30" fill="#fff"/>
<ellipse cx="1000" cy="530" rx="20" ry="30" transform="rotate(25 1000 530)" fill="#111" stroke-width="8"/>
<ellipse cx="1210" cy="540" rx="20" ry="30" transform="rotate(25 1210 540)" fill="#111" stroke-width="8"/>
<ellipse cx="1280" cy="750" rx="20" ry="30" transform="rotate(25 1280 750)" fill="#111" stroke-width="8"/>
<ellipse cx="780" cy="760" rx="20" ry="30" transform="rotate(25 780 760)" fill="#111" stroke-width="8"/>
<ellipse cx="680" cy="1050" rx="20" ry="30" transform="rotate(25 680 1050)" fill="#111" stroke-width="8"/>
<ellipse cx="755" cy="1262" rx="20" ry="30" transform="rotate(25 755 1262)" fill="#111" stroke-width="8"/>
<ellipse cx="960" cy="1262" rx="20" ry="30" transform="rotate(25 960 1262)" fill="#111" stroke-width="8"/>
<ellipse cx="1215" cy="1000" rx="20" ry="30" transform="rotate(25 1215 1000)" fill="#111" stroke-width="8"/>
<path d="M1075,425 Q1110,400 1150,420 M1300,520 Q1330,560 1335,600 M615,1230 Q625,1290 650,1320 M790,1380 Q840,1360 880,1375" stroke-width="16"/>
<path d="M1144,660 L1150,722 L1202,725 L1185,795 L1223,827 L1186,893 L1203,947 L1151,998 L1145,1066 L1088,1092 L1059,1161 L1007,1159 L961,1218 L922,1187 L866,1226 L848,1172 L793,1183 L798,1116 L752,1098 L780,1028 L752,984 L798,924 L792,862 L847,823 L865,752 L921,740 L959,675 L1006,692 L1058,642 L1087,685 Z" fill="#111" stroke-width="14"/>
<path d="M900,735 L1010,790 M865,800 L975,850 M835,875 L940,922 M818,955 L925,998 M825,1035 L930,1072 M850,1110 L945,1140 M960,690 L1040,735" stroke="#fff" stroke-width="15"/>
<ellipse cx="1045" cy="955" rx="150" ry="92" transform="rotate(-60 1045 955)" fill="#111" stroke-width="10"/>
<ellipse cx="1045" cy="955" rx="128" ry="72" transform="rotate(-60 1045 955)" fill="none" stroke="#fff" stroke-width="7"/>
<ellipse cx="1050" cy="958" rx="100" ry="52" transform="rotate(-60 1050 958)" fill="#fff" stroke-width="12"/>
</g>

<!-- crank_l -->
<g id="crank_l" transform="translate(545,860) scale(0.125)" class="p" stroke-width="30.8">
<!-- stub -->
<path class="w" d="M215,398 Q130,410 85,500 Q60,600 130,670 L185,692 L300,440 Z"/>
<!-- back rim -->
<ellipse class="w" cx="587" cy="719" rx="675" ry="386" transform="rotate(-64.7 587 719)"/>
<path d="M760,85 Q500,150 320,430 Q230,600 190,790" stroke-width="50.6"/>
<path class="w" style="stroke:none" d="M870,100 L1090,210 L520,1440 L300,1330 Z"/>
<path d="M880,105 L1085,205 M300,1330 L520,1440"/>
<!-- front ellipse -->
<ellipse class="w" cx="799" cy="821" rx="675" ry="386" transform="rotate(-64.7 799 821)"/>
<path d="M1240,735 Q1170,730 1130,780 Q1090,900 1000,1080 Q900,1200 760,1225 Q640,1250 600,1262 Q520,1200 495,1050 L488,935 L395,950" />
<path d="M160,872 L365,955"/>
<path d="M366,960 Q345,1150 410,1330" stroke-width="39.6"/>
<!-- oval web -->
<ellipse cx="862" cy="632" rx="165" ry="415" transform="rotate(17 862 632)"/>
<path d="M1010,290 Q1040,500 960,760 Q880,950 780,1000" stroke-width="17.6"/>
<ellipse cx="832" cy="505" rx="82" ry="128" transform="rotate(20 832 505)" stroke-width="33"/>
<ellipse cx="765" cy="812" rx="42" ry="72" transform="rotate(20 765 812)" stroke-width="28.6"/>
<!-- small holes -->
<ellipse cx="650" cy="1372" rx="32" ry="62" transform="rotate(30 650 1372)" stroke-width="28.6"/>
<ellipse cx="775" cy="1335" rx="36" ry="66" transform="rotate(30 775 1335)" stroke-width="28.6"/>
</g>


<!-- crank_r -->
<g id="crank_r" transform="translate(700,930) scale(0.125)" class="p" stroke-width="30.8">
<ellipse class="w" cx="526" cy="712" rx="683" ry="385" transform="rotate(-65.3 526 712)"/>
<path class="w" style="stroke:none" d="M800,90 L1030,200 L480,1450 L250,1350 Z"/>
<path d="M812,92 L1030,195 M240,1345 L470,1450"/>
<ellipse class="w" cx="744" cy="814" rx="683" ry="385" transform="rotate(-65.3 744 814)"/>
<path d="M985,215 Q720,300 500,620 Q350,900 345,1150 Q350,1300 400,1390" stroke-width="17.6"/>
<path d="M900,190 Q700,270 520,500 Q400,680 330,900" stroke-width="48.4"/>
<path d="M80,850 L295,902"/>
<!-- big holes -->
<ellipse cx="552" cy="622" rx="85" ry="148" transform="rotate(25 552 622)"/>
<ellipse cx="815" cy="532" rx="78" ry="132" transform="rotate(20 815 532)"/>
<ellipse cx="1075" cy="470" rx="88" ry="135" transform="rotate(20 1075 470)"/>
<circle cx="665" cy="385" r="24" stroke-width="22"/>
<ellipse cx="1050" cy="288" rx="22" ry="40" transform="rotate(20 1050 288)" stroke-width="22"/>
<ellipse cx="597" cy="1372" rx="38" ry="76" transform="rotate(25 597 1372)" stroke-width="28.6"/>
<ellipse cx="725" cy="1332" rx="38" ry="72" transform="rotate(25 725 1332)" stroke-width="28.6"/>
<!-- shaft -->
<path class="w" d="M880,622 Q700,690 615,870 Q600,1000 660,1045 L700,1015 L960,1072 L1200,1150 L1425,1252 Q1530,1250 1530,1150 Q1520,1085 1495,1078 L1250,960 L1150,900 L1000,760 Z"/>
<path d="M935,720 Q800,850 815,1040" stroke-width="37.4"/>
<path d="M1050,805 Q935,940 958,1068" stroke-width="28.6"/>
<path d="M1235,985 Q1190,1070 1215,1150" stroke-width="26.4"/>
<path d="M700,1000 L760,1010" stroke-width="37.4"/>
<ellipse cx="1478" cy="1155" rx="50" ry="88" transform="rotate(20 1478 1155)" stroke-width="33"/>
<circle cx="1484" cy="1152" r="18" fill="#111" stroke-width="13.2"/>
</g>


<!-- bearing_r -->
<g id="bearing_r" transform="translate(830,1060) scale(0.13125)" class="p" stroke-width="29.7">
<!-- key 25 -->
<path d="M135,625 Q170,565 240,585 Q325,630 305,698 L285,700 Z" stroke-width="28.6"/>
<!-- bearing 11 -->
<ellipse class="w" cx="740" cy="458" rx="336" ry="193" transform="rotate(-60 740 458)"/>
<path class="w" style="stroke:none" d="M908,167 L1042,245 L706,827 L572,749 Z"/>
<path d="M908,167 L1042,245 M572,749 L706,827"/>
<ellipse class="w" cx="874" cy="536" rx="336" ry="193" transform="rotate(-60 874 536)"/>
<ellipse cx="872" cy="545" rx="200" ry="105" transform="rotate(-60 872 545)"/>
<ellipse cx="878" cy="550" rx="165" ry="72" transform="rotate(-60 878 550)" stroke-width="22"/>
<g stroke-width="22">
<ellipse cx="865" cy="352" rx="32" ry="22" transform="rotate(-60 865 352)"/>
<ellipse cx="995" cy="318" rx="32" ry="22" transform="rotate(-60 995 318)"/>
<ellipse cx="1040" cy="455" rx="32" ry="22" transform="rotate(-60 1040 455)"/>
<ellipse cx="985" cy="610" rx="32" ry="22" transform="rotate(-60 985 610)"/>
<ellipse cx="865" cy="740" rx="32" ry="22" transform="rotate(-60 865 740)"/>
<ellipse cx="735" cy="765" rx="32" ry="22" transform="rotate(-60 735 765)"/>
<ellipse cx="695" cy="630" rx="32" ry="22" transform="rotate(-60 695 630)"/>
<ellipse cx="750" cy="470" rx="32" ry="22" transform="rotate(-60 750 470)"/>
</g>
<!-- seal 10 -->
<ellipse class="w" cx="1205" cy="725" rx="275" ry="175" transform="rotate(-62.7 1205 725)"/>
<ellipse class="w" cx="1249" cy="749" rx="275" ry="175" transform="rotate(-62.7 1249 749)"/>
<path d="M1110,620 Q1050,760 1080,900" stroke-width="19.8"/>
<ellipse cx="1258" cy="764" rx="150" ry="95" transform="rotate(-60 1258 764)"/>
<ellipse cx="1268" cy="775" rx="118" ry="62" transform="rotate(-60 1268 775)" stroke-width="24.2"/>
</g>


<!-- nut8 -->
<g id="nut8" transform="translate(1070,1190) scale(0.05)">
<path d="M640,340 Q420,420 400,750 Q420,900 560,1000 L760,1180 Q900,1210 1000,1150 Q1200,1000 1250,700 Q1240,480 1050,390 Q850,310 640,340 Z" fill="#0a0a0a"/>
<path d="M700,420 Q530,570 500,770" fill="none" stroke="#fff" stroke-width="46" stroke-linecap="round"/>
<ellipse cx="705" cy="680" rx="48" ry="115" transform="rotate(25 705 680)" fill="#fff"/>
<ellipse cx="875" cy="452" rx="58" ry="32" transform="rotate(-10 875 452)" fill="#fff"/>
<ellipse cx="625" cy="940" rx="30" ry="62" transform="rotate(-30 625 940)" fill="#fff"/>
<ellipse cx="965" cy="822" rx="200" ry="285" transform="rotate(25 965 822)" fill="none" stroke="#fff" stroke-width="26"/>
<path d="M1160,760 Q1120,1000 960,1105" fill="none" stroke="#0a0a0a" stroke-width="40"/>
</g>


<!-- watermark -->
<defs>
<pattern id="dots" x="3.54" y="28.55" width="39.625" height="39.725" patternUnits="userSpaceOnUse">
<circle cx="3.962" cy="3.973" r="1.3" fill="#8a8a8a"/><circle cx="11.887" cy="3.973" r="1.3" fill="#b4b4b4"/><circle cx="19.812" cy="3.973" r="1.3" fill="#8a8a8a"/><circle cx="27.737" cy="3.973" r="1.3" fill="#2a2a2a"/><circle cx="35.663" cy="3.973" r="1.3" fill="#8a8a8a"/><circle cx="3.962" cy="11.918" r="1.3" fill="#b4b4b4"/><circle cx="11.887" cy="11.918" r="1.3" fill="#2a2a2a"/><circle cx="19.812" cy="11.918" r="1.3" fill="#8a8a8a"/><circle cx="27.737" cy="11.918" r="1.3" fill="#8a8a8a"/><circle cx="35.663" cy="11.918" r="1.3" fill="#b4b4b4"/><circle cx="3.962" cy="19.863" r="1.3" fill="#8a8a8a"/><circle cx="11.887" cy="19.863" r="1.3" fill="#8a8a8a"/><circle cx="19.812" cy="19.863" r="1.3" fill="#b4b4b4"/><circle cx="27.737" cy="19.863" r="1.3" fill="#8a8a8a"/><circle cx="35.663" cy="19.863" r="1.3" fill="#2a2a2a"/><circle cx="3.962" cy="27.808" r="1.3" fill="#2a2a2a"/><circle cx="11.887" cy="27.808" r="1.3" fill="#8a8a8a"/><circle cx="19.812" cy="27.808" r="1.3" fill="#8a8a8a"/><circle cx="27.737" cy="27.808" r="1.3" fill="#b4b4b4"/><circle cx="35.663" cy="27.808" r="1.3" fill="#8a8a8a"/><circle cx="3.962" cy="35.752" r="1.3" fill="#8a8a8a"/><circle cx="11.887" cy="35.752" r="1.3" fill="#8a8a8a"/><circle cx="19.812" cy="35.752" r="1.3" fill="#2a2a2a"/><circle cx="27.737" cy="35.752" r="1.3" fill="#8a8a8a"/><circle cx="35.663" cy="35.752" r="1.3" fill="#b4b4b4"/>
</pattern>
<mask id="wmmask" maskUnits="userSpaceOnUse" x="0" y="0" width="1600" height="1600">
<rect width="1600" height="1600" fill="#000"/>
<g fill="#fff" stroke="none">
<path d="M552,682 C556,648 530,647 506,647 C460,647 424,655 422,686 C422,722 530,712 530,752 C530,792 500,792 477,792 C440,792 424,780 421,752" fill="none" stroke="#fff" stroke-width="40" stroke-linecap="butt"/>
<path d="M765.8,719.5 L760.3,731.6 L753.2,743.4 L744.5,754.9 L734.6,765.8 L723.4,775.8 L711.3,784.9 L698.4,792.9 L685.0,799.6 L671.2,805.0 L657.3,808.8 L643.6,811.2 L630.3,812.0 L617.6,811.2 L605.7,808.8 L594.8,805.0 L585.2,799.6 L576.9,792.9 L570.2,784.9 L565.1,775.8 L561.7,765.8 L560.1,754.9 L560.4,743.4 L562.4,731.6 L566.2,719.5 L571.7,707.4 L578.8,695.6 L587.5,684.1 L597.4,673.2 L608.6,663.2 L620.7,654.1 L633.6,646.1 L647.0,639.4 L660.8,634.0 L674.7,630.2 L688.4,627.8 L701.7,627.0 L714.4,627.8 L726.3,630.2 L737.2,634.0 L746.8,639.4 L755.1,646.1 L761.8,654.1 L766.9,663.2 L770.3,673.2 L771.9,684.1 L771.6,695.6 L769.6,707.4 Z M707.2,723.5 L709.5,716.8 L711.0,710.2 L711.9,703.8 L712.0,697.8 L711.3,692.1 L709.9,687.1 L707.8,682.6 L705.1,678.9 L701.7,675.9 L697.7,673.8 L693.3,672.4 L688.4,672.0 L683.2,672.4 L677.7,673.8 L672.1,675.9 L666.4,678.9 L660.7,682.6 L655.2,687.1 L649.9,692.1 L644.9,697.8 L640.4,703.8 L636.3,710.2 L632.7,716.8 L629.8,723.5 L627.5,730.2 L626.0,736.8 L625.1,743.2 L625.0,749.2 L625.7,754.9 L627.1,759.9 L629.2,764.4 L631.9,768.1 L635.3,771.1 L639.3,773.2 L643.7,774.6 L648.6,775.0 L653.8,774.6 L659.3,773.2 L664.9,771.1 L670.6,768.1 L676.3,764.4 L681.8,759.9 L687.1,754.9 L692.1,749.2 L696.6,743.2 L700.7,736.8 L704.3,730.2 Z" fill-rule="evenodd"/>
<path d="M815,626 L952,626 L937,665 L848,665 L832,707 L910,707 L895,747 L817,747 L793,809 L745,809 Z"/>
<path d="M973,626 L1118,626 L1102,670 L1055,670 L1002,809 L955,809 L1007,670 L957,670 Z"/>
<path d="M624,809 L668,809 L696,930 L730,809 L782,809 L806,930 L842,809 L886,809 L828,988 L782,988 L756,880 L718,988 L672,988 Z"/>
<path d="M934,809 L1015,809 L1055,988 L1012,988 L1003,952 L935,952 L927,988 L879,988 Z M975,858 L993,920 L952,920 Z" fill-rule="evenodd"/>
<path d="M1047,809 L1101,809 L1136,882 L1172.8,809 L1225,809 L1156,930 L1156,988 L1116,988 L1116,930 Z"/>
</g>
<rect x="1080" y="800" width="8" height="120" fill="#000"/>
<path fill="#000" stroke="#000" stroke-width="3" d="M1234,760 Q1240,715 1325,706 Q1420,712 1436,775 L1428,872 L1420,878 L1465,903 Q1473,915 1470,935 Q1462,950 1437,951 L1400,972 L1350,982 L1348,990 Q1335,998 1318,994 L1265,968 L1212,946 L1212,932 L1165,906 L1170,880 Q1178,868 1192,869 L1205,871 L1215,843 L1226,843 Z"/>
</mask>
</defs>
<rect x="380" y="600" width="900" height="420" fill="url(#dots)" mask="url(#wmmask)" style="mix-blend-mode:multiply"/>


<g id="leaders">
<line class="ld" x1="1205" y1="252.5" x2="1287.5" y2="228.75"/>
<line class="ld" x1="1205.6" y1="289.4" x2="1280" y2="266.9"/>
<line class="ld" x1="1451.25" y1="262.5" x2="1506.25" y2="288"/>
<line class="ld" x1="1444.4" y1="304.4" x2="1504.4" y2="321.25"/>
<line class="ld" x1="1203.75" y1="435.6" x2="1249" y2="393"/>
<line class="ld" x1="1206.25" y1="480.6" x2="1315" y2="450.6"/>
<line class="ld" x1="1206" y1="513" x2="1257.5" y2="529.4"/>
<line class="ld" x1="1204.4" y1="554.4" x2="1264" y2="602.5"/>
<line class="ld" x1="751" y1="522.5" x2="776" y2="522.5"/>
<line class="ld" x1="518.75" y1="487.5" x2="543.75" y2="506"/>
<line class="ld" x1="716" y1="457.5" x2="691" y2="446"/>
<line class="ld" x1="716" y1="465" x2="690" y2="475"/>
<line class="ld" x1="722.5" y1="568.75" x2="705" y2="590"/>
<line class="ld" x1="800" y1="602.5" x2="776" y2="630"/>
<line class="ld" x1="836" y1="605" x2="820" y2="642.5"/>
<line class="ld" x1="34.4" y1="670" x2="61.9" y2="646"/>
<line class="ld" x1="1510.6" y1="894.4" x2="1473" y2="840"/>
<line class="ld" x1="1505" y1="936.25" x2="1472.5" y2="921.9"/>
<line class="ld" x1="1505" y1="976.25" x2="1453.75" y2="996.25"/>
<line class="ld" x1="335" y1="935.6" x2="311.25" y2="869.4"/>
<line class="ld" x1="325" y1="958.75" x2="215.6" y2="997"/>
<line class="ld" x1="386.25" y1="938" x2="433" y2="880"/>
<line class="ld" x1="423" y1="943" x2="467.5" y2="907.5"/>
<line class="ld" x1="655" y1="1111" x2="638.75" y2="1041"/>
<line class="ld" x1="655.6" y1="1111" x2="772.6" y2="825"/>
<line class="ld" x1="659" y1="1112.5" x2="710" y2="1077.5"/>
<line class="ld" x1="1018" y1="785.6" x2="1063" y2="765"/>
<line class="ld" x1="1018" y1="833.75" x2="1056" y2="859.4"/>
<line class="ld" x1="930.9" y1="1267.2" x2="866" y2="1154"/>
<line class="ld" x1="969.9" y1="1267.2" x2="935" y2="1173"/>
<line class="ld" x1="1004.8" y1="1266.4" x2="986" y2="1193.3"/>
<line class="ld" x1="1054.4" y1="1270.5" x2="1090" y2="1231.5"/>
</g>
<g id="callouts">
<circle class="cc" cx="1190" cy="255.6" r="15.2"/><text class="ct" transform="translate(1190 262.1) scale(0.94 1)">28</text>
<circle class="cc" cx="1190" cy="292.5" r="15.2"/><text class="ct" transform="translate(1190 299.0) scale(0.94 1)">29</text>
<circle class="cc" cx="1520.6" cy="290" r="15.2"/><text class="ct" transform="translate(1520.6 296.5) scale(0.94 1)">1</text>
<circle class="cc" cx="1519.6" cy="325" r="15.2"/><text class="ct" transform="translate(1519.6 331.5) scale(0.94 1)">2</text>
<circle class="cc" cx="1190" cy="446.9" r="15.2"/><text class="ct" transform="translate(1190 453.4) scale(0.94 1)">3</text>
<circle class="cc" cx="1190" cy="480" r="15.2"/><text class="ct" transform="translate(1190 486.5) scale(0.94 1)">26</text>
<circle class="cc" cx="1190" cy="513" r="15.2"/><text class="ct" transform="translate(1190 519.5) scale(0.94 1)">27</text>
<circle class="cc" cx="1190" cy="546" r="15.2"/><text class="ct" transform="translate(1190 552.5) scale(0.94 1)">4</text>
<circle class="cc" cx="507" cy="477" r="15.2"/><text class="ct" transform="translate(507 483.5) scale(0.94 1)">20</text>
<circle class="cc" cx="731.25" cy="462.5" r="15.2"/><text class="ct" transform="translate(731.25 469.0) scale(0.94 1)">18</text>
<circle class="cc" cx="791.25" cy="522.5" r="15.2"/><text class="ct" transform="translate(791.25 529.0) scale(0.94 1)">19</text>
<circle class="cc" cx="731.25" cy="556.25" r="15.2"/><text class="ct" transform="translate(731.25 562.75) scale(0.94 1)">16</text>
<circle class="cc" cx="806.25" cy="590" r="15.2"/><text class="ct" transform="translate(806.25 596.5) scale(0.94 1)">15</text>
<circle class="cc" cx="839.25" cy="590" r="15.2"/><text class="ct" transform="translate(839.25 596.5) scale(0.94 1)">14</text>
<circle class="cc" cx="21.9" cy="683" r="15.2"/><text class="ct" transform="translate(21.9 689.5) scale(0.94 1)">21</text>
<circle class="cc" cx="1002.5" cy="792.5" r="15.2"/><text class="ct" transform="translate(1002.5 799.0) scale(0.94 1)">13</text>
<circle class="cc" cx="1002.5" cy="826.25" r="15.2"/><text class="ct" transform="translate(1002.5 832.75) scale(0.94 1)">12</text>
<circle class="cc" cx="1520.6" cy="905.4" r="15.2"/><text class="ct" transform="translate(1520.6 911.9) scale(0.94 1)">5</text>
<circle class="cc" cx="1520.4" cy="937.5" r="15.2"/><text class="ct" transform="translate(1520.4 944.0) scale(0.94 1)">6</text>
<circle class="cc" cx="1520.4" cy="969.4" r="15.2"/><text class="ct" transform="translate(1520.4 975.9) scale(0.94 1)">7</text>
<circle class="cc" cx="1552.75" cy="969.4" r="15.2"/><text class="ct" transform="translate(1552.75 975.9) scale(0.94 1)">71</text>
<circle class="cc" cx="1585" cy="969.4" r="15.2"/><text class="ct" transform="translate(1585 975.9) scale(0.94 1)">72</text>
<circle class="cc" cx="339.75" cy="951" r="15.2"/><text class="ct" transform="translate(339.75 957.5) scale(0.94 1)">22</text>
<circle class="cc" cx="373.75" cy="951" r="15.2"/><text class="ct" transform="translate(373.75 957.5) scale(0.94 1)">10</text>
<circle class="cc" cx="407.75" cy="951" r="15.2"/><text class="ct" transform="translate(407.75 957.5) scale(0.94 1)">11</text>
<circle class="cc" cx="649.75" cy="1125.4" r="15.2"/><text class="ct" transform="translate(649.75 1131.9) scale(0.94 1)">24</text>
<circle class="cc" cx="939" cy="1282.2" r="15.2"/><text class="ct" transform="translate(939 1288.7) scale(0.94 1)">25</text>
<circle class="cc" cx="972.8" cy="1282.2" r="15.2"/><text class="ct" transform="translate(972.8 1288.7) scale(0.94 1)">11</text>
<circle class="cc" cx="1006.4" cy="1282.2" r="15.2"/><text class="ct" transform="translate(1006.4 1288.7) scale(0.94 1)">10</text>
<circle class="cc" cx="1039.75" cy="1282.2" r="15.2"/><text class="ct" transform="translate(1039.75 1288.7) scale(0.94 1)">8</text>
</g>
<text x="786.5" y="1386.3" text-anchor="middle" font-family="Liberation Sans, sans-serif" font-size="25" fill="#111" stroke="#111" stroke-width="0.45">© Copyright 2016 Betamotor S.p.A.</text>
</svg></body></html>
